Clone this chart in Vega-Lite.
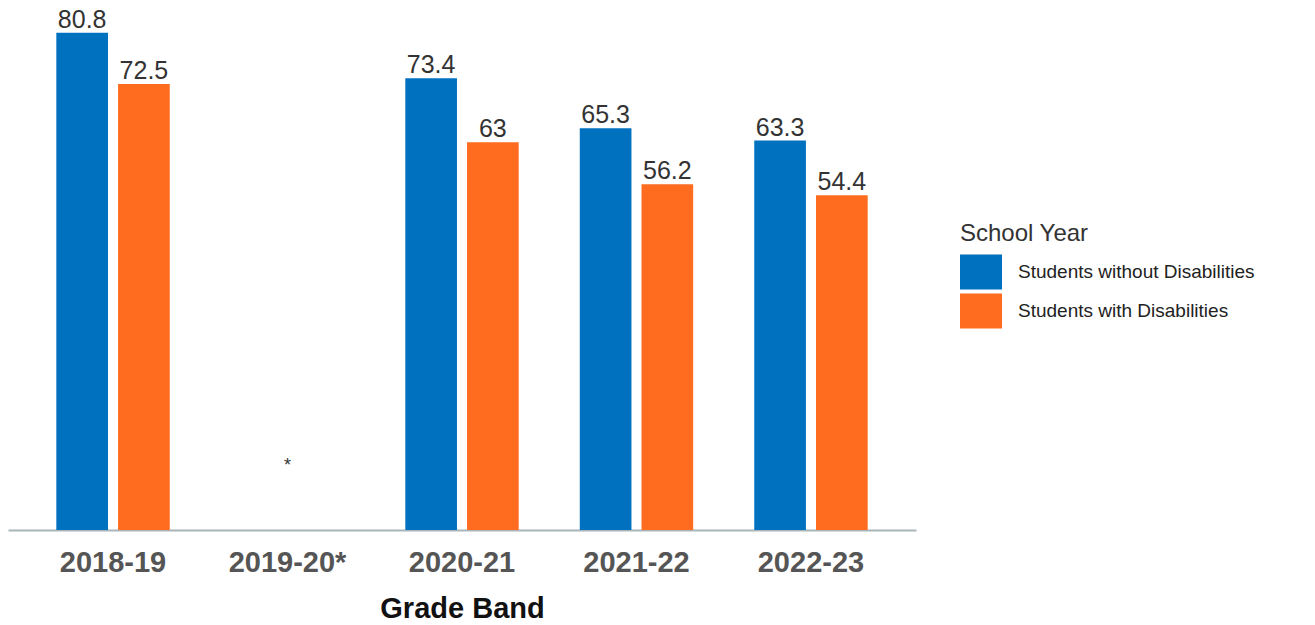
{
  "$schema": "https://vega.github.io/schema/vega-lite/v6.json",
  "width": 908,
  "height": 523,
  "autosize": "none",
  "padding": {"left": 8, "top": 7, "right": 399, "bottom": 95},
  "background": "white",
  "config": {
    "view": {"stroke": null},
    "font": "Liberation Sans"
  },
  "data": {
    "values": [
      {"year": "2018-19", "group": "Students without Disabilities", "value": 80.8},
      {"year": "2018-19", "group": "Students with Disabilities", "value": 72.5},
      {"year": "2020-21", "group": "Students without Disabilities", "value": 73.4},
      {"year": "2020-21", "group": "Students with Disabilities", "value": 63},
      {"year": "2021-22", "group": "Students without Disabilities", "value": 65.3},
      {"year": "2021-22", "group": "Students with Disabilities", "value": 56.2},
      {"year": "2022-23", "group": "Students without Disabilities", "value": 63.3},
      {"year": "2022-23", "group": "Students with Disabilities", "value": 54.4}
    ]
  },
  "encoding": {
    "x": {
      "field": "year",
      "type": "nominal",
      "scale": {
        "domain": ["2018-19", "2019-20*", "2020-21", "2021-22", "2022-23"],
        "paddingInner": 0.35,
        "paddingOuter": 0.277
      },
      "axis": {
        "title": "Grade Band",
        "labelAngle": 0,
        "labelFont": "Liberation Sans",
        "labelFontSize": 29,
        "labelFontWeight": "bold",
        "labelColor": "#555555",
        "labelPadding": 18,
        "ticks": false,
        "domainColor": "#a9b5ba",
        "domainWidth": 2,
        "titleFont": "Liberation Sans",
        "titleFontSize": 29,
        "titleFontWeight": "bold",
        "titleColor": "#111111",
        "titlePadding": 17
      }
    }
  },
  "layer": [
    {
      "mark": {"type": "bar"},
      "encoding": {
        "xOffset": {
          "field": "group",
          "type": "nominal",
          "scale": {
            "domain": ["Students without Disabilities", "Students with Disabilities"],
            "paddingInner": 0.163,
            "paddingOuter": 0
          }
        },
        "y": {
          "field": "value",
          "type": "quantitative",
          "scale": {"domain": [0, 85], "nice": false, "zero": true},
          "axis": null
        },
        "color": {
          "field": "group",
          "type": "nominal",
          "scale": {
            "domain": ["Students without Disabilities", "Students with Disabilities"],
            "range": ["#0071BF", "#FF6C1F"]
          },
          "legend": {
            "title": "School Year",
            "orient": "none",
            "legendX": 952,
            "legendY": 215,
            "titleFont": "Liberation Sans",
            "titleFontSize": 24,
            "titleFontWeight": "normal",
            "titleColor": "#333333",
            "titlePadding": 5,
            "labelFont": "Liberation Sans",
            "labelFontSize": 19,
            "labelColor": "#222222",
            "labelOffset": 16,
            "labelLimit": 400,
            "symbolType": "M-1,-0.833L1,-0.833L1,0.833L-1,0.833Z",
            "symbolSize": 1764,
            "symbolStrokeWidth": 0,
            "symbolOpacity": 1,
            "rowPadding": -2,
            "padding": 0
          }
        }
      }
    },
    {
      "mark": {
        "type": "text",
        "baseline": "alphabetic",
        "dy": -5,
        "fontSize": 25,
        "font": "Liberation Sans",
        "color": "#333333"
      },
      "encoding": {
        "xOffset": {
          "field": "group",
          "type": "nominal",
          "scale": {
            "domain": ["Students without Disabilities", "Students with Disabilities"],
            "paddingInner": 0.163,
            "paddingOuter": 0
          }
        },
        "y": {"field": "value", "type": "quantitative"},
        "text": {"field": "value", "type": "quantitative"}
      }
    },
    {
      "data": {"values": [{"year": "2019-20*", "note": "*"}]},
      "mark": {
        "type": "text",
        "baseline": "middle",
        "dy": -64,
        "fontSize": 18,
        "font": "Liberation Sans",
        "color": "#333333"
      },
      "encoding": {
        "y": {"datum": 0, "type": "quantitative"},
        "text": {"field": "note", "type": "nominal"}
      }
    }
  ]
}
